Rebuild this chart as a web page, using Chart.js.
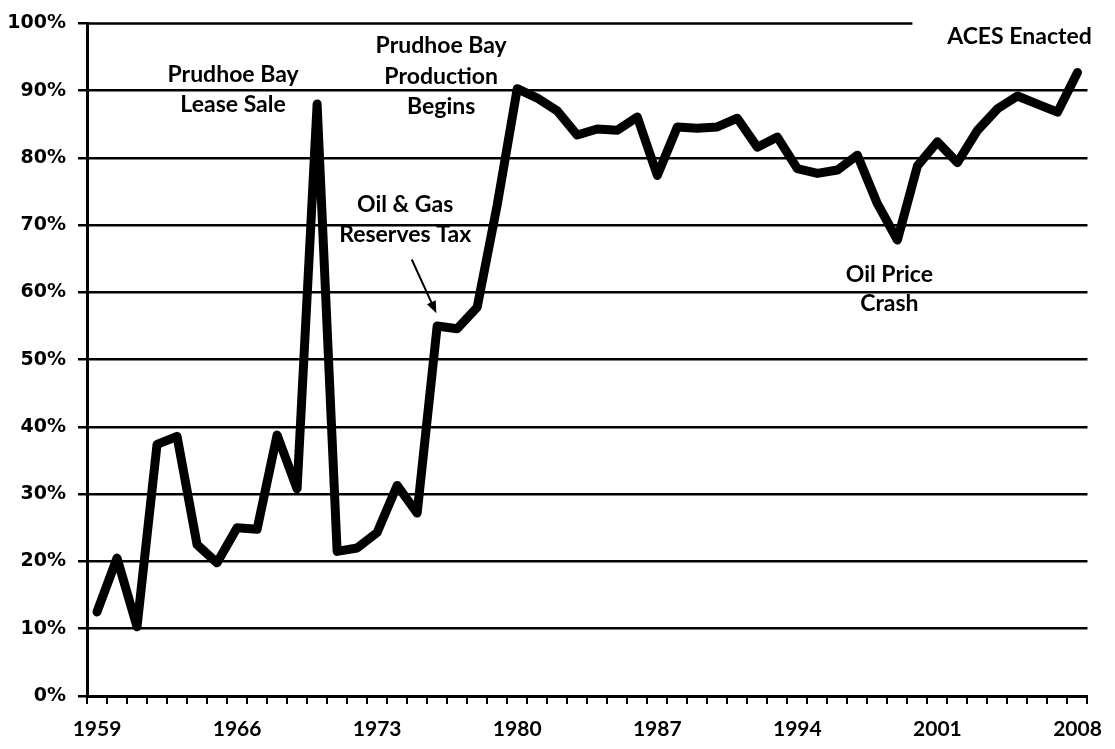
<!DOCTYPE html>
<html>
<head>
<meta charset="utf-8">
<script src="https://cdn.jsdelivr.net/npm/chart.js@4/dist/chart.umd.min.js"></script>
<style>
  html, body { margin: 0; padding: 0; background: #fff; }
  #wrap { width: 1115px; height: 749px; position: relative; }
</style>
</head>
<body>
<div id="wrap"><canvas id="c"></canvas></div>
<script>
// Years on the horizontal axis
const years = [];
for (let y = 1959; y <= 2008; y++) years.push(String(y));

// Share (%) by year, 1959–2008
const shares = [
  12.5, 20.5, 10.3, 37.4, 38.6, 22.5, 19.8, 25.0, 24.8, 38.8,
  30.8, 88.0, 21.5, 22.0, 24.3, 31.3, 27.2, 55.0, 54.6, 57.8,
  73.0, 90.3, 88.9, 87.0, 83.4, 84.3, 84.1, 86.1, 77.4, 84.6,
  84.4, 84.6, 85.9, 81.6, 83.1, 78.4, 77.7, 78.2, 80.4, 73.2,
  67.8, 78.8, 82.4, 79.3, 84.1, 87.3, 89.2, 88.0, 86.8, 92.7
];

// Only every seventh year carries a label
const labeledYears = ['1959', '1966', '1973', '1980', '1987', '1994', '2001', '2008'];

// Event notes: [year index (centre), value, text]
const notes = [
  [6.8, 92.4, 'Prudhoe Bay'],
  [6.8, 88.0, 'Lease Sale'],
  [17.2, 96.7, 'Prudhoe Bay'],
  [17.2, 92.1, 'Production'],
  [17.2, 87.6, 'Begins'],
  [15.4, 73.0, 'Oil & Gas'],
  [15.4, 68.6, 'Reserves Tax'],
  [39.6, 62.7, 'Oil Price'],
  [39.6, 58.4, 'Crash'],
  [46.1, 98.1, 'ACES Enacted']
];

// Pointer from the reserves-tax note down to the 1976 jump
const arrowFrom = [15.73, 64.9];
const arrowTo = [16.96, 56.9];

const noteFont = 'bold 23px Lato';

const notesPlugin = {
  id: 'notes',
  afterDatasetsDraw(chart) {
    const { ctx, scales: { x, y }, chartArea } = chart;
    ctx.save();
    // top reference line stops short of the right edge
    ctx.strokeStyle = '#000';
    ctx.lineWidth = 2.5;
    const yTop = y.getPixelForValue(100);
    ctx.beginPath();
    ctx.moveTo(chartArea.left, yTop);
    ctx.lineTo(chartArea.left + (chartArea.right - chartArea.left) * 0.825, yTop);
    ctx.stroke();

    ctx.fillStyle = '#000';
    ctx.font = noteFont;
    ctx.textAlign = 'center';
    ctx.textBaseline = 'middle';
    for (const [i, v, t] of notes) {
      ctx.fillText(t, x.getPixelForValue(i), y.getPixelForValue(v));
    }

    // arrow
    const x0 = x.getPixelForValue(arrowFrom[0]), y0 = y.getPixelForValue(arrowFrom[1]);
    const x1 = x.getPixelForValue(arrowTo[0]), y1 = y.getPixelForValue(arrowTo[1]);
    const ang = Math.atan2(y1 - y0, x1 - x0);
    const head = 13, spread = 0.38;
    ctx.lineWidth = 2;
    ctx.beginPath();
    ctx.moveTo(x0, y0);
    ctx.lineTo(x1 - Math.cos(ang) * head * 0.8, y1 - Math.sin(ang) * head * 0.8);
    ctx.stroke();
    ctx.beginPath();
    ctx.moveTo(x1, y1);
    ctx.lineTo(x1 - head * Math.cos(ang - spread), y1 - head * Math.sin(ang - spread));
    ctx.lineTo(x1 - head * Math.cos(ang + spread), y1 - head * Math.sin(ang + spread));
    ctx.closePath();
    ctx.fill();
    ctx.restore();
  }
};

new Chart(document.getElementById('c'), {
  type: 'line',
  data: {
    labels: years,
    datasets: [{
      data: shares,
      borderColor: '#000',
      borderWidth: 9,
      borderJoinStyle: 'round',
      borderCapStyle: 'round',
      pointRadius: 0,
      tension: 0,
      fill: false
    }]
  },
  options: {
    responsive: true,
    maintainAspectRatio: false,
    devicePixelRatio: 1,
    animation: false,
    layout: { padding: { top: 21, right: 15, left: 0, bottom: 0 } },
    plugins: { legend: { display: false }, tooltip: { enabled: false } },
    scales: {
      x: {
        type: 'category',
        offset: true,
        grid: {
          drawOnChartArea: false,
          drawTicks: true,
          tickLength: 8,
          color: '#000',
          lineWidth: 2,
          offset: true
        },
        border: { display: true, color: '#000', width: 3 },
        ticks: {
          autoSkip: false,
          maxRotation: 0,
          minRotation: 0,
          padding: 13,
          color: '#000',
          font: { family: 'Lato', weight: 'bold', size: 21 },
          callback(value, index) {
            const lbl = this.getLabelForValue(value);
            return labeledYears.includes(lbl) ? lbl : '';
          }
        },
        afterFit(scale) { scale.height = 53; }
      },
      y: {
        min: 0,
        max: 100,
        grid: {
          color: (c) => (c.tick && c.tick.value === 100 ? 'rgba(0,0,0,0)' : '#000'),
          tickColor: '#000',
          lineWidth: 2.5,
          tickLength: 9,
          drawTicks: true
        },
        border: { display: true, color: '#000', width: 3 },
        ticks: {
          stepSize: 10,
          padding: 12,
          color: '#000',
          font: { family: 'DejaVu Sans', weight: 'bold', size: 19 },
          callback: (v) => v + '%'
        },
        afterFit(scale) { scale.width = 87; }
      }
    }
  },
  plugins: [notesPlugin]
});
</script>
</body>
</html>
